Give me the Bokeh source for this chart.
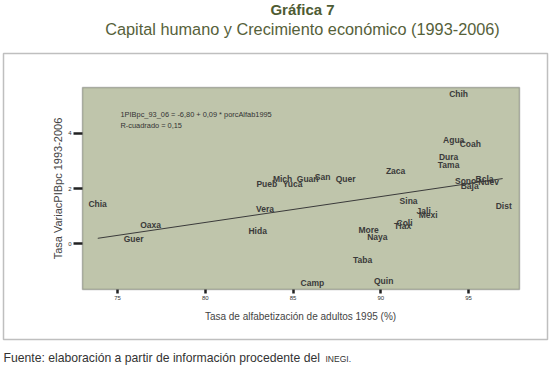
import math
from bokeh.plotting import figure
from bokeh.models import Label, FixedTicker, ColumnDataSource, BoxAnnotation
from bokeh.core.properties import value
from bokeh.embed import file_html
from bokeh.resources import INLINE

# ---- data ----
states = ["Chih", "Agua", "Coah", "Dura", "Tama", "Zaca", "Sono", "Bcla", "Nuev", "Baja",
          "Dist", "Sina", "Jali", "Mexi", "Coli", "Tlax", "More", "Naya", "Taba", "Camp",
          "Quin", "Quer", "San", "Guan", "Mich", "Yuca", "Pueb", "Vera", "Hida", "Chia",
          "Oaxa", "Guer"]
alfab = [94.43, 94.15, 95.10, 93.86, 93.86, 90.84, 94.83, 95.91, 96.14, 95.06,
         97.00, 91.58, 92.44, 92.70, 91.35, 91.24, 89.30, 89.80, 88.96, 86.10,
         90.16, 87.99, 86.68, 85.83, 84.40, 84.97, 83.50, 83.40, 82.98, 73.86,
         76.88, 75.91]
growth = [5.42, 3.78, 3.60, 3.16, 2.84, 2.65, 2.29, 2.36, 2.22, 2.10,
          1.38, 1.53, 1.20, 1.02, 0.73, 0.62, 0.51, 0.25, -0.58, -1.42,
          -1.35, 2.36, 2.40, 2.33, 2.36, 2.15, 2.15, 1.27, 0.44, 1.42,
          0.69, 0.18]
fit_x = [73.87, 96.94]
fit_y = [0.19, 2.36]
x_ticks = [75, 80, 85, 90, 95]
y_ticks = [0, 2, 4]
x_lim = (73.0, 97.9)
y_lim = (-1.67, 5.67)

title = "Gráfica 7"
subtitle = "Capital humano y Crecimiento económico (1993-2006)"
eq_lines = ["1PIBpc_93_06 = -6,80 + 0,09 * porcAlfab1995", "R-cuadrado = 0,15"]
x_label = "Tasa de alfabetización de adultos 1995 (%)"
y_label = "Tasa VariacPIBpc 1993-2006"
footer_main = "Fuente: elaboración a partir de información procedente del"
footer_sc = "INEGI."

FONT = "Liberation Sans"
W, H = 549, 368
PL, PR, PT, PB = 82, 519, 87, 289          # plot area on the page (pixels)
BL, BR, BT, BB = 3, 547, 53, 339           # outer frame on the page (pixels)

kx = (x_lim[1] - x_lim[0]) / (PR - PL)
ky = (y_lim[1] - y_lim[0]) / (PB - PT)


def X(px):
    return x_lim[0] + (px - PL) * kx


def Y(py):
    return y_lim[1] - (py - PT) * ky


p = figure(width=W, height=H, x_range=(X(0), X(W)), y_range=(Y(H), Y(0)),
           output_backend="svg", toolbar_location=None,
           min_border=0, min_border_left=0, min_border_right=0,
           min_border_top=0, min_border_bottom=0,
           background_fill_color="white", border_fill_color="white",
           outline_line_color=None)
p.title.visible = False
p.grid.visible = False

# outer frame and plot area
p.add_layout(BoxAnnotation(left=X(BL), right=X(BR), top=Y(BT), bottom=Y(BB),
                           fill_alpha=0, line_color="#2b2b2b", line_width=1.5, level="underlay"))
p.add_layout(BoxAnnotation(left=x_lim[0], right=x_lim[1], bottom=y_lim[0], top=y_lim[1],
                           fill_color="#bfc5ab", fill_alpha=1,
                           line_color="#2b2b2b", line_width=1.5, level="underlay"))

# axes fixed on the plot-area edges
p.xaxis.fixed_location = y_lim[0]
p.yaxis.fixed_location = x_lim[0]
p.xaxis.bounds = x_lim
p.yaxis.bounds = y_lim
for ax in (p.xaxis[0], p.yaxis[0]):
    ax.axis_line_color = None
    ax.major_tick_in = 0
    ax.minor_tick_line_color = None
    ax.major_tick_line_color = "#222222"
    ax.major_tick_line_width = 2.5
    ax.major_label_text_font = FONT
    ax.major_label_text_font_size = "6px"
    ax.major_label_text_color = "#333333"
p.xaxis.ticker = FixedTicker(ticks=x_ticks)
p.yaxis.ticker = FixedTicker(ticks=y_ticks)
p.xaxis.major_tick_out = 4
p.yaxis.major_tick_out = 9
p.xaxis.major_label_standoff = 2
p.yaxis.major_label_standoff = 2

# axis titles
p.add_layout(Label(x=X(300), y=Y(316), text=x_label, text_font=FONT, text_font_size="10px",
                   text_color="#444444", text_align="center", text_baseline="middle"))
p.add_layout(Label(x=X(57), y=Y(188), text=y_label, text_font=FONT, text_font_size="11px",
                   text_color="#444444", text_align="center", text_baseline="middle",
                   angle=math.pi / 2))

# regression line
p.line(fit_x, fit_y, line_color="#3a3a3a", line_width=1)

# state labels
src = ColumnDataSource(dict(x=alfab, y=growth, t=states))
p.text(x="x", y="y", text="t", source=src, text_font=value(FONT),
       text_font_style="bold", text_font_size="8.5px", text_color="#3a3a3a",
       text_align="center", text_baseline="middle")

# equation
p.add_layout(Label(x=X(120), y=Y(114), text=eq_lines[0], text_font=FONT, text_font_size="7.4px",
                   text_color="#333333", text_baseline="middle"))
p.add_layout(Label(x=X(120), y=Y(125), text=eq_lines[1], text_font=FONT, text_font_size="7.4px",
                   text_color="#333333", text_baseline="middle"))

# titles and source note
p.add_layout(Label(x=X(302), y=Y(9), text=title, text_font=FONT, text_font_style="bold",
                   text_font_size="15px", text_color="#4e5b33",
                   text_align="center", text_baseline="middle"))
p.add_layout(Label(x=X(302), y=Y(28), text=subtitle, text_font=FONT, text_font_size="16.3px",
                   text_color="#56613a", text_align="center", text_baseline="middle"))
p.add_layout(Label(x=X(3), y=Y(357), text=footer_main, text_font=FONT, text_font_size="12.2px",
                   text_color="#333333", text_align="left", text_baseline="middle"))
p.add_layout(Label(x=X(325), y=Y(358), text=footer_sc, text_font=FONT, text_font_size="8.5px",
                   text_color="#333333", text_align="left", text_baseline="middle"))

open("out.html", "w").write(file_html(p, INLINE))
